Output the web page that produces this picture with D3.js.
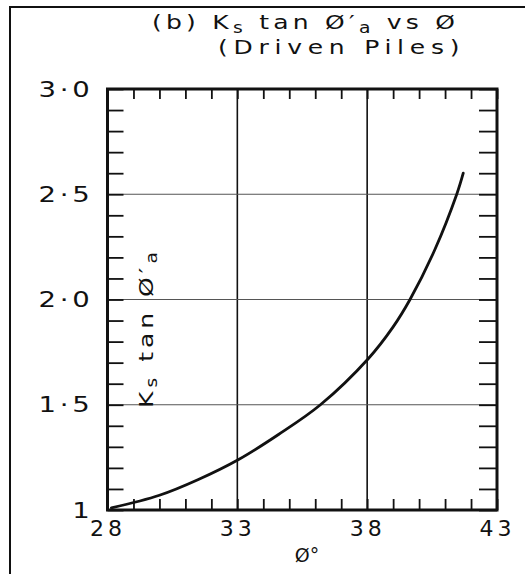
<!DOCTYPE html>
<html>
<head>
<meta charset="utf-8">
<script src="https://cdn.jsdelivr.net/npm/d3@7/dist/d3.min.js"></script>
<style>
  html, body { margin: 0; padding: 0; background: #fff; }
  svg { display: block; }
  text { font-family: "DejaVu Sans", sans-serif; fill: #111; }
</style>
</head>
<body>
<svg id="chart" width="525" height="574"></svg>
<script>
// Friction angle (degrees) and the matching Ks·tan(δ) values for driven piles
const phiDeg = [28.15, 30.0, 31.5, 33.05, 34.6, 36.2, 38.05, 39.0, 39.65, 40.6, 41.45, 41.7];
const ksTan  = [1.01, 1.07, 1.145, 1.24, 1.36, 1.50, 1.72, 1.87, 2.00, 2.235, 2.50, 2.60];

const xTickValues = [28, 33, 38, 43];
const xTickLabels = ["28", "33", "38", "43"];
const yTickValues = [1, 1.5, 2, 2.5, 3];
const yTickLabels = ["1", "1·5", "2·0", "2·5", "3·0"];
const xGridValues = [33, 38];
const yGridValues = [1.5, 2, 2.5];

const svg = d3.select("#chart");
const plotL = 107.5, plotR = 497, plotT = 89, plotB = 510;
const wide = 1.25; // horizontal stretch of the lettering

const x = d3.scaleLinear().domain([28, 43]).range([plotL, plotR]);
const y = d3.scaleLinear().domain([1, 3]).range([plotB, plotT]);

// outer frame (top and left edges)
svg.append("path")
  .attr("d", "M10,574 L10,7 L525,7")
  .attr("fill", "none").attr("stroke", "#111").attr("stroke-width", 2);

// grid lines
svg.append("g").selectAll("line").data(xGridValues).join("line")
  .attr("x1", d => x(d)).attr("x2", d => x(d))
  .attr("y1", plotT).attr("y2", plotB)
  .attr("stroke", "#111").attr("stroke-width", 1.6);
svg.append("g").selectAll("line").data(yGridValues).join("line")
  .attr("x1", plotL).attr("x2", plotR)
  .attr("y1", d => y(d)).attr("y2", d => y(d))
  .attr("stroke", "#555").attr("stroke-width", 1.1);

// minor ticks pointing into the plot
const degTicks = d3.range(28, 44, 1);
const tenthTicks = d3.range(10, 31, 1).map(v => v / 10);
function tickStyle(g) {
  g.select(".domain").remove();
  g.selectAll(".tick line").attr("stroke", "#111").attr("stroke-width", 1.8);
  g.selectAll(".tick text").remove();
}
svg.append("g").attr("transform", `translate(0,${plotB})`)
  .call(d3.axisBottom(x).tickValues(degTicks).tickSize(-11)).call(tickStyle);
svg.append("g").attr("transform", `translate(0,${plotT})`)
  .call(d3.axisTop(x).tickValues(degTicks).tickSize(-10)).call(tickStyle);
svg.append("g").attr("transform", `translate(${plotL},0)`)
  .call(d3.axisLeft(y).tickValues(tenthTicks).tickSize(-16)).call(tickStyle);
svg.append("g").attr("transform", `translate(${plotR},0)`)
  .call(d3.axisRight(y).tickValues(tenthTicks).tickSize(-18)).call(tickStyle);

// plot border
svg.append("rect")
  .attr("x", plotL).attr("y", plotT)
  .attr("width", plotR - plotL).attr("height", plotB - plotT)
  .attr("fill", "none").attr("stroke", "#111").attr("stroke-width", 3);

// tick labels
const xLab = svg.append("g").attr("transform", `translate(0,${plotB})`)
  .call(d3.axisBottom(x).tickValues(xTickValues).tickSize(0).tickPadding(10)
    .tickFormat((d, i) => xTickLabels[i]));
xLab.select(".domain").remove();
xLab.selectAll("text").attr("font-size", 22).attr("letter-spacing", 4)
  .attr("font-family", "DejaVu Sans").attr("fill", "#111");

const yLab = svg.append("g").attr("transform", `translate(${plotL},0)`)
  .call(d3.axisLeft(y).tickValues(yTickValues).tickSize(0).tickPadding(14)
    .tickFormat((d, i) => yTickLabels[i]));
yLab.select(".domain").remove();
yLab.selectAll(".tick text")
  .attr("font-size", 22).attr("letter-spacing", 3)
  .attr("font-family", "DejaVu Sans").attr("fill", "#111")
  .attr("transform", `translate(-14,0) scale(${wide},1) translate(14,0)`);

// curve
const line = d3.line().x((d, i) => x(phiDeg[i])).y((d, i) => y(ksTan[i]))
  .curve(d3.curveCatmullRom.alpha(0.5));
svg.append("path").datum(phiDeg).attr("d", line)
  .attr("fill", "none").attr("stroke", "#111").attr("stroke-width", 2.8)
  .attr("stroke-linecap", "round");

// title
const t1 = svg.append("text")
  .attr("transform", `translate(152,29) scale(${wide},1)`)
  .attr("font-size", 20).attr("letter-spacing", 3.4);
t1.append("tspan").text("(b) K");
t1.append("tspan").attr("dy", 4).attr("font-size", 15).text("s");
t1.append("tspan").attr("dy", -4).text(" tan Ø′");
t1.append("tspan").attr("dy", 4).attr("font-size", 15).text("a");
t1.append("tspan").attr("dy", -4).text(" vs Ø");

svg.append("text")
  .attr("transform", `translate(218,54) scale(${wide},1)`)
  .attr("font-size", 20).attr("letter-spacing", 4.6)
  .text("(Driven Piles)");

// axis titles
svg.append("text").attr("x", 307).attr("y", 562)
  .attr("text-anchor", "middle").attr("font-size", 19).text("Ø°");

const yt = svg.append("text")
  .attr("transform", `translate(153,328) rotate(-90) scale(${wide},1)`)
  .attr("text-anchor", "middle").attr("font-size", 20).attr("letter-spacing", 3.2);
yt.append("tspan").text("K");
yt.append("tspan").attr("dy", 4).attr("font-size", 15).text("s");
yt.append("tspan").attr("dy", -4).text(" tan Ø′");
yt.append("tspan").attr("dy", 4).attr("font-size", 15).text("a");
</script>
</body>
</html>
